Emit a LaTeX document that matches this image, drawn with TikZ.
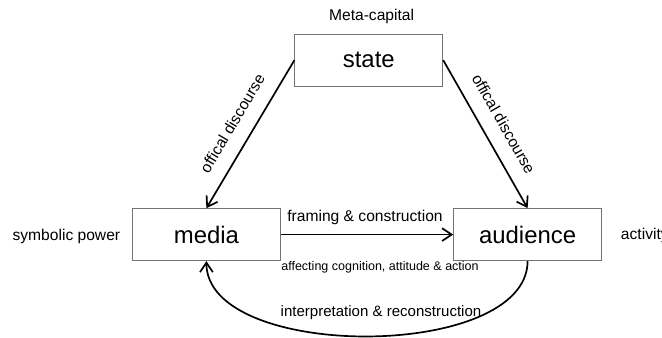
\documentclass[tikz,border=0pt]{standalone}
\usepackage{fontspec}
\setmainfont{Liberation Sans}
\usetikzlibrary{arrows.meta}

\begin{document}
\begin{tikzpicture}[>={Straight Barb[length=2.4mm,width=3.2mm]}, scale=1.0,
    actor/.style={draw=black!55, line width=0.6pt, minimum width=3.7cm, minimum height=1.3cm, font=\fontsize{17}{20}\selectfont},
    side/.style={font=\fontsize{11.1}{13}\selectfont},
    flow/.style={->, line width=1.2pt}]
  \useasboundingbox (0,0) rectangle (16.55,8.425);
  \node[actor] (state) at (9.22,6.92) {state};
  \node[actor] (media) at (5.16,2.56) {media};
  \node[actor] (audience) at (13.19,2.56) {audience};
  \node[side] (metacap) at (9.29,8.02) {Meta-capital};
  \node[side] (sympow) at (1.66,2.51) {symbolic power};
  \node[side,anchor=west] (activ) at (15.4,2.54) {activity};
  \draw[flow] (state.west) -- (media.north) node[side,midway,sloped,above=7pt] (offl) {offical discourse};
  \draw[flow] (state.east) -- (audience.north) node[side,midway,sloped,above=7pt] (offr) {offical discourse};
  \draw[flow] (media.east) -- (audience.west);
  \node[side] (framing) at (9.125,3.0) {framing \& construction};
  \node[font=\fontsize{8.9}{10}\selectfont] (affect) at (9.5,1.74) {affecting cognition, attitude \& action};
  \draw[flow] (audience.south) to[out=-90,in=-90,looseness=0.8] (media.south);
  \node[font=\fontsize{10.7}{13}\selectfont] (interp) at (9.525,0.62) {interpretation \& reconstruction};
\end{tikzpicture}
\end{document}
